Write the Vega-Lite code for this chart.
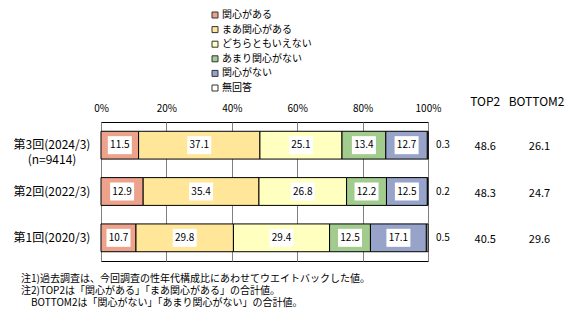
{
  "$schema": "https://vega.github.io/schema/vega-lite/v6.json",
  "width": 327,
  "height": 139,
  "autosize": "none",
  "padding": {"left": 101, "top": 122, "right": 153, "bottom": 71},
  "background": "white",
  "config": {
    "font": "Noto Sans CJK JP",
    "view": {"stroke": "black", "strokeWidth": 1},
    "text": {"font": "Noto Sans CJK JP"}
  },
  "title": {
    "text": [
      "注1)過去調査は、今回調査の性年代構成比にあわせてウエイトバックした値。",
      "注2)TOP2は「関心がある」「まあ関心がある」の合計値。",
      "\u200b\u3000BOTTOM2は「関心がない」「あまり関心がない」の合計値。"
    ],
    "orient": "bottom",
    "anchor": "start",
    "frame": "group",
    "dx": -80,
    "offset": 13,
    "fontSize": 10,
    "fontWeight": "normal",
    "lineHeight": 11.8,
    "color": "black",
    "font": "Noto Sans CJK JP"
  },
  "datasets": {
    "bars": [
      {"survey": "第3回(2024/3)\n(n=9414)", "cat": "関心がある", "ord": 1, "v": 11.5},
      {"survey": "第3回(2024/3)\n(n=9414)", "cat": "まあ関心がある", "ord": 2, "v": 37.1},
      {"survey": "第3回(2024/3)\n(n=9414)", "cat": "どちらともいえない", "ord": 3, "v": 25.1},
      {"survey": "第3回(2024/3)\n(n=9414)", "cat": "あまり関心がない", "ord": 4, "v": 13.4},
      {"survey": "第3回(2024/3)\n(n=9414)", "cat": "関心がない", "ord": 5, "v": 12.7},
      {"survey": "第3回(2024/3)\n(n=9414)", "cat": "無回答", "ord": 6, "v": 0.3},
      {"survey": "第2回(2022/3)", "cat": "関心がある", "ord": 1, "v": 12.9},
      {"survey": "第2回(2022/3)", "cat": "まあ関心がある", "ord": 2, "v": 35.4},
      {"survey": "第2回(2022/3)", "cat": "どちらともいえない", "ord": 3, "v": 26.8},
      {"survey": "第2回(2022/3)", "cat": "あまり関心がない", "ord": 4, "v": 12.2},
      {"survey": "第2回(2022/3)", "cat": "関心がない", "ord": 5, "v": 12.5},
      {"survey": "第2回(2022/3)", "cat": "無回答", "ord": 6, "v": 0.2},
      {"survey": "第1回(2020/3)", "cat": "関心がある", "ord": 1, "v": 10.7},
      {"survey": "第1回(2020/3)", "cat": "まあ関心がある", "ord": 2, "v": 29.8},
      {"survey": "第1回(2020/3)", "cat": "どちらともいえない", "ord": 3, "v": 29.4},
      {"survey": "第1回(2020/3)", "cat": "あまり関心がない", "ord": 4, "v": 12.5},
      {"survey": "第1回(2020/3)", "cat": "関心がない", "ord": 5, "v": 17.1},
      {"survey": "第1回(2020/3)", "cat": "無回答", "ord": 6, "v": 0.5}
    ],
    "summary": [
      {"survey": "第3回(2024/3)\n(n=9414)", "nr": "0.3", "top2": "48.6", "bottom2": "26.1"},
      {"survey": "第2回(2022/3)", "nr": "0.2", "top2": "48.3", "bottom2": "24.7"},
      {"survey": "第1回(2020/3)", "nr": "0.5", "top2": "40.5", "bottom2": "29.6"}
    ],
    "headers": [
      {"h": "TOP2"},
      {"h": "BOTTOM2"}
    ]
  },
  "resolve": {"scale": {"y": "independent"}, "axis": {"y": "independent"}},
  "layer": [
    {
      "layer": [
        {
          "data": {"name": "bars"},
          "mark": {"type": "bar", "stroke": "black", "strokeWidth": 1},
          "encoding": {
            "y": {
              "field": "survey",
              "type": "nominal",
              "sort": null,
              "scale": {
                "domain": ["第3回(2024/3)\n(n=9414)", "第2回(2022/3)", "第1回(2020/3)"],
                "paddingInner": 0.4,
                "paddingOuter": 0.2
              },
              "axis": {
                "title": null,
                "ticks": false,
                "domain": false,
                "labelExpr": "split(datum.label, '\\n')",
                "labelAlign": "center",
                "labelPadding": 49.5,
                "labelFontSize": 12,
                "labelLineHeight": 15,
                "labelColor": "black",
                "labelFont": "Noto Sans CJK JP"
              }
            },
            "x": {
              "field": "v",
              "type": "quantitative",
              "stack": "zero",
              "scale": {"domain": [0, 100], "nice": false, "clamp": false},
              "axis": {
                "orient": "top",
                "title": null,
                "values": [0, 20, 40, 60, 80, 100],
                "labelExpr": "datum.value + '%'",
                "ticks": false,
                "domain": false,
                "labelFontSize": 10,
                "labelPadding": 9,
                "labelBaseline": "bottom",
                "labelColor": "black",
                "labelFont": "Noto Sans CJK JP",
                "labelFlush": false,
                "labelOverlap": false,
                "grid": true,
                "gridColor": "#808080",
                "gridWidth": 1
              }
            },
            "color": {
              "field": "cat",
              "type": "nominal",
              "scale": {
                "domain": ["関心がある", "まあ関心がある", "どちらともいえない", "あまり関心がない", "関心がない", "無回答"],
                "range": ["#EDA28C", "#FFE699", "#FFFFC0", "#A2CB8E", "#98A3C9", "#FFFFFF"]
              },
              "legend": {
                "title": null,
                "orient": "none",
                "legendX": 109,
                "legendY": -112,
                "padding": 0,
                "symbolType": "square",
                "symbolSize": 36,
                "symbolStrokeColor": "#333333",
                "symbolStrokeWidth": 1,
                "labelFontSize": 10,
                "labelOffset": 2,
                "labelColor": "black",
                "labelFont": "Noto Sans CJK JP",
                "rowPadding": 4.6
              }
            },
            "order": {"field": "ord", "type": "quantitative"}
          }
        },
        {
          "data": {"name": "bars"},
          "transform": [
            {"stack": "v", "groupby": ["survey"], "sort": [{"field": "ord"}], "as": ["v0", "v1"]},
            {"filter": "datum.ord < 6"},
            {"calculate": "(datum.v0 + datum.v1) / 2", "as": "mid"}
          ],
          "mark": {"type": "point", "filled": true, "color": "white", "opacity": 1, "shape": "M-1.333,-1H1.333V1H-1.333Z", "size": 324, "strokeWidth": 0},
          "encoding": {
            "x": {"field": "mid", "type": "quantitative"},
            "y": {"field": "survey", "type": "nominal", "sort": null}
          }
        },
        {
          "data": {"name": "bars"},
          "transform": [
            {"stack": "v", "groupby": ["survey"], "sort": [{"field": "ord"}], "as": ["v0", "v1"]},
            {"filter": "datum.ord < 6"},
            {"calculate": "(datum.v0 + datum.v1) / 2", "as": "mid"}
          ],
          "mark": {"type": "text", "fontSize": 10, "color": "black", "baseline": "middle"},
          "encoding": {
            "x": {"field": "mid", "type": "quantitative"},
            "y": {"field": "survey", "type": "nominal", "sort": null},
            "text": {"field": "v", "type": "quantitative", "format": ".1f"}
          }
        },
        {
          "data": {"name": "summary"},
          "mark": {"type": "text", "fontSize": 10, "color": "black", "align": "left", "dx": 8, "baseline": "middle"},
          "encoding": {
            "x": {"datum": 100},
            "y": {"field": "survey", "type": "nominal", "sort": null},
            "text": {"field": "nr"}
          }
        },
        {
          "data": {"name": "summary"},
          "mark": {"type": "text", "fontSize": 11, "color": "black", "align": "center", "dy": 2, "baseline": "middle"},
          "encoding": {
            "x": {"datum": 117.5},
            "y": {"field": "survey", "type": "nominal", "sort": null},
            "text": {"field": "top2"}
          }
        },
        {
          "data": {"name": "summary"},
          "mark": {"type": "text", "fontSize": 11, "color": "black", "align": "center", "dy": 2, "baseline": "middle"},
          "encoding": {
            "x": {"datum": 134.1},
            "y": {"field": "survey", "type": "nominal", "sort": null},
            "text": {"field": "bottom2"}
          }
        }
      ]
    },
    {
      "data": {"name": "headers"},
      "transform": [{"filter": "datum.h == 'TOP2'"}],
      "mark": {"type": "text", "fontSize": 12, "color": "black", "align": "center", "baseline": "middle"},
      "encoding": {
        "x": {"datum": 117.5},
        "y": {"datum": 1.144, "type": "quantitative", "scale": {"domain": [0, 1]}, "axis": null},
        "text": {"field": "h"}
      }
    },
    {
      "data": {"name": "headers"},
      "transform": [{"filter": "datum.h == 'BOTTOM2'"}],
      "mark": {"type": "text", "fontSize": 12, "color": "black", "align": "center", "baseline": "middle"},
      "encoding": {
        "x": {"datum": 133.2},
        "y": {"datum": 1.144, "type": "quantitative", "scale": {"domain": [0, 1]}, "axis": null},
        "text": {"field": "h"}
      }
    }
  ]
}
